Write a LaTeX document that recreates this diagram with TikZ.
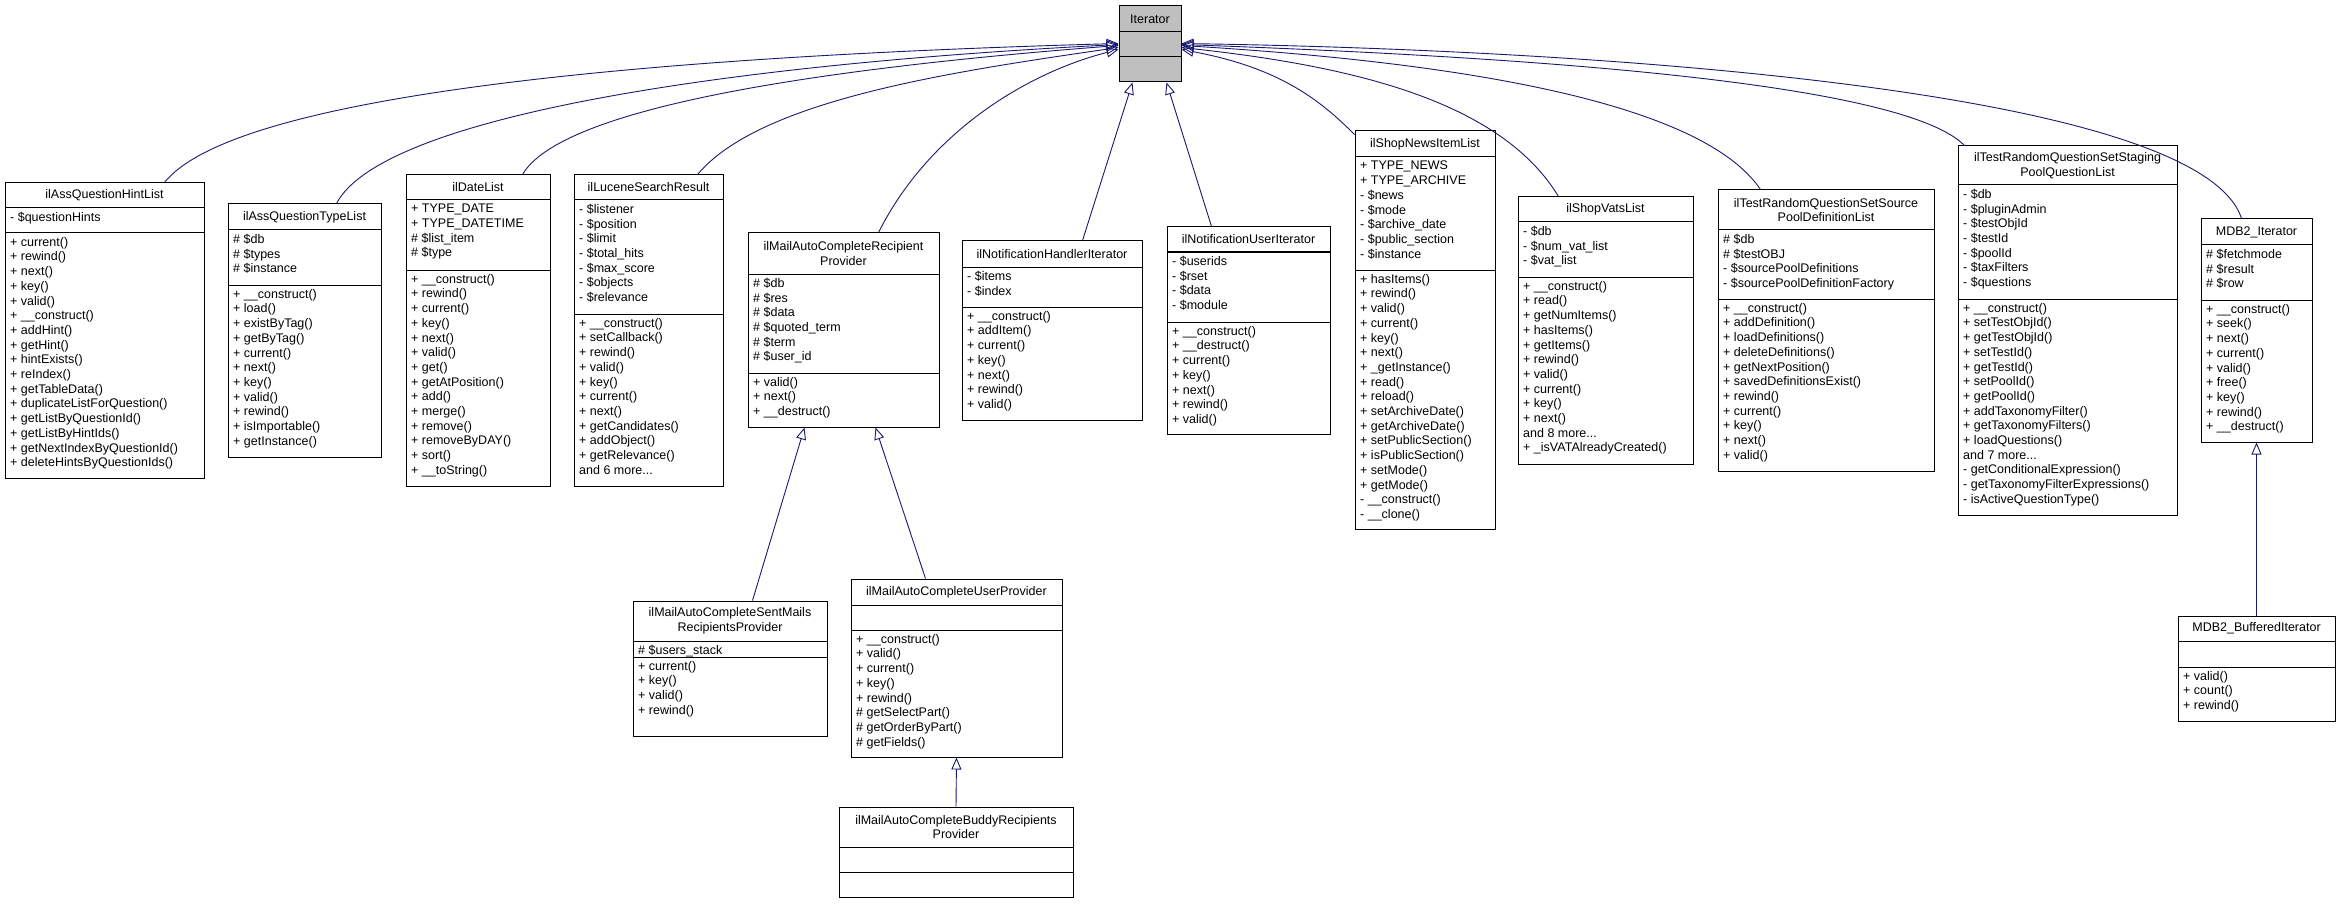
\documentclass[tikz,border=0pt]{standalone}
\usepackage{fontspec}
\setmainfont{Liberation Sans}
\usetikzlibrary{arrows.meta,calc}
\definecolor{edgec}{HTML}{191970}
\newcommand\umlbox[9]{%
 \node[cls, minimum width={(#3-#2)*1pt}, minimum height={(#7-#4)*1pt}] (#1) at ({(#2+#3)/2},{(#4+#7)/2}) {};
 \node[txt, align=center] (#1-t) at ({(#2+#3)/2},{(#4+#5)/2}) {#8};
 \draw[sep] (#2,#5) -- (#3,#5);
 \draw[sep] (#2,#6) -- (#3,#6);
 \node[mt] (#1-a) at ({#2+5},{#5+4}) {#9};
 \coordinate (#1-ms) at ({#2+5},{#6+4});
}
\begin{document}
\begin{tikzpicture}[x=1pt,y=-1pt,
 cls/.style={draw=black, line width=1pt, fill=white, inner sep=0pt},
 sep/.style={draw=black, line width=1pt},
 txt/.style={inner sep=0pt, font=\fontsize{12.5}{14.7}\selectfont},
 mt/.style={txt, anchor=north west, align=left},
 inh/.style={draw=edgec, line width=0.9pt, -{Triangle[open, length=12pt, width=10pt]}}]
\useasboundingbox (0,0) rectangle (2340,904);
% Iterator
\node[cls, fill=black!25, minimum width=62pt, minimum height=76pt] (iter) at (1150,44) {};
\node[txt] (iter-t) at (1150,19) {Iterator};
\draw[sep] (1119,32) -- (1181,32);
\draw[sep] (1119,57) -- (1181,57);

\umlbox{hint}{5}{204}{183}{208}{233}{478}{ilAssQuestionHintList}{- \$questionHints}
\node[mt] (hint-m) at (hint-ms) {+ current()\\+ rewind()\\+ next()\\+ key()\\+ valid()\\+ \_\_construct()\\+ addHint()\\+ getHint()\\+ hintExists()\\+ reIndex()\\+ getTableData()\\+ duplicateListForQuestion()\\+ getListByQuestionId()\\+ getListByHintIds()\\+ getNextIndexByQuestionId()\\+ deleteHintsByQuestionIds()};

\umlbox{type}{228}{381}{204}{230}{285}{457}{ilAssQuestionTypeList}{\# \$db\\\# \$types\\\# \$instance}
\node[mt] (type-m) at (type-ms) {+ \_\_construct()\\+ load()\\+ existByTag()\\+ getByTag()\\+ current()\\+ next()\\+ key()\\+ valid()\\+ rewind()\\+ isImportable()\\+ getInstance()};

\umlbox{date}{406}{550}{175}{200}{270}{486}{ilDateList}{+ TYPE\_DATE\\+ TYPE\_DATETIME\\\# \$list\_item\\\# \$type}
\node[mt] (date-m) at (date-ms) {+ \_\_construct()\\+ rewind()\\+ current()\\+ key()\\+ next()\\+ valid()\\+ get()\\+ getAtPosition()\\+ add()\\+ merge()\\+ remove()\\+ removeByDAY()\\+ sort()\\+ \_\_toString()};

\umlbox{luc}{574}{723}{175}{200}{314}{486}{ilLuceneSearchResult}{- \$listener\\- \$position\\- \$limit\\- \$total\_hits\\- \$max\_score\\- \$objects\\- \$relevance}
\node[mt] (luc-m) at (luc-ms) {+ \_\_construct()\\+ setCallback()\\+ rewind()\\+ valid()\\+ key()\\+ current()\\+ next()\\+ getCandidates()\\+ addObject()\\+ getRelevance()\\and 6 more...};

\umlbox{rec}{748}{939}{233}{274}{373}{427}{ilMailAutoCompleteRecipient\\Provider}{\# \$db\\\# \$res\\\# \$data\\\# \$quoted\_term\\\# \$term\\\# \$user\_id}
\node[mt] (rec-m) at (rec-ms) {+ valid()\\+ next()\\+ \_\_destruct()};

\umlbox{hand}{962}{1142}{241}{267}{307}{420}{ilNotificationHandlerIterator}{- \$items\\- \$index}
\node[mt] (hand-m) at (hand-ms) {+ \_\_construct()\\+ addItem()\\+ current()\\+ key()\\+ next()\\+ rewind()\\+ valid()};

\umlbox{user}{1167}{1330}{227}{252}{322}{434}{ilNotificationUserIterator}{- \$userids\\- \$rset\\- \$data\\- \$module}
\node[mt] (user-m) at (user-ms) {+ \_\_construct()\\+ \_\_destruct()\\+ current()\\+ key()\\+ next()\\+ rewind()\\+ valid()};

\umlbox{news}{1355}{1495}{131}{157}{270}{529}{ilShopNewsItemList}{+ TYPE\_NEWS\\+ TYPE\_ARCHIVE\\- \$news\\- \$mode\\- \$archive\_date\\- \$public\_section\\- \$instance}
\node[mt] (news-m) at (news-ms) {+ hasItems()\\+ rewind()\\+ valid()\\+ current()\\+ key()\\+ next()\\+ \_getInstance()\\+ read()\\+ reload()\\+ setArchiveDate()\\+ getArchiveDate()\\+ setPublicSection()\\+ isPublicSection()\\+ setMode()\\+ getMode()\\- \_\_construct()\\- \_\_clone()};

\umlbox{vats}{1518}{1693}{197}{222}{277}{464}{ilShopVatsList}{- \$db\\- \$num\_vat\_list\\- \$vat\_list}
\node[mt] (vats-m) at (vats-ms) {+ \_\_construct()\\+ read()\\+ getNumItems()\\+ hasItems()\\+ getItems()\\+ rewind()\\+ valid()\\+ current()\\+ key()\\+ next()\\and 8 more...\\+ \_isVATAlreadyCreated()};

\umlbox{src}{1718}{1934}{190}{230}{299}{471}{ilTestRandomQuestionSetSource\\PoolDefinitionList}{\# \$db\\\# \$testOBJ\\- \$sourcePoolDefinitions\\- \$sourcePoolDefinitionFactory}
\node[mt] (src-m) at (src-ms) {+ \_\_construct()\\+ addDefinition()\\+ loadDefinitions()\\+ deleteDefinitions()\\+ getNextPosition()\\+ savedDefinitionsExist()\\+ rewind()\\+ current()\\+ key()\\+ next()\\+ valid()};

\umlbox{stg}{1958}{2177}{146}{185}{299}{515}{ilTestRandomQuestionSetStaging\\PoolQuestionList}{- \$db\\- \$pluginAdmin\\- \$testObjId\\- \$testId\\- \$poolId\\- \$taxFilters\\- \$questions}
\node[mt] (stg-m) at (stg-ms) {+ \_\_construct()\\+ setTestObjId()\\+ getTestObjId()\\+ setTestId()\\+ getTestId()\\+ setPoolId()\\+ getPoolId()\\+ addTaxonomyFilter()\\+ getTaxonomyFilters()\\+ loadQuestions()\\and 7 more...\\- getConditionalExpression()\\- getTaxonomyFilterExpressions()\\- isActiveQuestionType()};

\umlbox{mdb}{2201}{2312}{219}{245}{300}{442}{MDB2\_Iterator}{\# \$fetchmode\\\# \$result\\\# \$row}
\node[mt] (mdb-m) at (mdb-ms) {+ \_\_construct()\\+ seek()\\+ next()\\+ current()\\+ valid()\\+ free()\\+ key()\\+ rewind()\\+ \_\_destruct()};

\umlbox{buf}{2178}{2335}{616}{641}{667}{721}{MDB2\_BufferedIterator}{}
\node[mt] (buf-m) at (buf-ms) {+ valid()\\+ count()\\+ rewind()};

\umlbox{sent}{633}{827}{601}{641}{657}{736}{ilMailAutoCompleteSentMails\\RecipientsProvider}{\# \$users\_stack}
\node[mt] (sent-m) at (sent-ms) {+ current()\\+ key()\\+ valid()\\+ rewind()};

\umlbox{up}{851}{1062}{579}{605}{630}{757}{ilMailAutoCompleteUserProvider}{}
\node[mt] (up-m) at (up-ms) {+ \_\_construct()\\+ valid()\\+ current()\\+ key()\\+ rewind()\\\# getSelectPart()\\\# getOrderByPart()\\\# getFields()};

\umlbox{bud}{839}{1073}{807}{847}{872}{897}{ilMailAutoCompleteBuddyRecipients\\Provider}{}

% edges to Iterator (left side)
\draw[inh] ([xshift=160pt]hint.north west) .. controls (230,100) and (600,58) .. ([yshift=-38pt]iter.north west);
\draw[inh] ([xshift=109pt]type.north west) .. controls (380,120) and (700,66) .. ([yshift=-39pt]iter.north west);
\draw[inh] ([xshift=117pt]date.north west) .. controls (560,110) and (800,70) .. ([yshift=-40pt]iter.north west);
\draw[inh] ([xshift=124pt]luc.north west) .. controls (760,100) and (950,72) .. ([yshift=-42pt]iter.north west);
\draw[inh] ([xshift=131pt]rec.north west) .. controls (930,130) and (1030,72) .. ([yshift=-44pt]iter.north west);
\draw[inh] ([xshift=121pt]hand.north west) -- ([xshift=14pt]iter.south west);
\draw[inh] ([xshift=45pt]user.north west) -- ([xshift=-15pt]iter.south east);
% right side
\draw[inh] ([yshift=-4pt]news.north west) .. controls (1320,100) and (1280,68) .. ([yshift=-44pt]iter.north east);
\draw[inh] ([xshift=41pt]vats.north west) .. controls (1500,100) and (1350,66) .. ([yshift=-42pt]iter.north east);
\draw[inh] ([xshift=43pt]src.north west) .. controls (1700,100) and (1450,62) .. ([yshift=-40pt]iter.north east);
\draw[inh] ([xshift=7pt]stg.north west) .. controls (1900,80) and (1500,56) .. ([yshift=-39pt]iter.north east);
\draw[inh] ([xshift=41pt]mdb.north west) .. controls (2200,90) and (1600,50) .. ([yshift=-38pt]iter.north east);
% lower
\draw[inh] ([xshift=120pt]sent.north west) -- ([xshift=57pt]rec.south west);
\draw[inh] ([xshift=75pt]up.north west) -- ([xshift=128pt]rec.south west);
\draw[inh] (bud.north) -- (up.south);
\draw[inh] (buf.north) -- (mdb.south);
\end{tikzpicture}
\end{document}
